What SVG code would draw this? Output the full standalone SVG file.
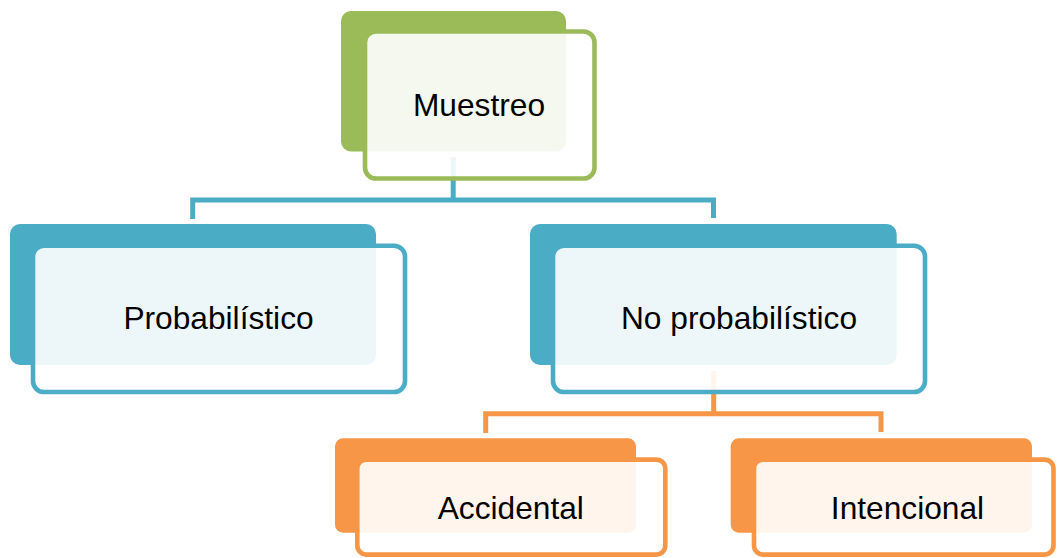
<svg xmlns="http://www.w3.org/2000/svg" width="1057" height="558" viewBox="0 0 1057 558">
  <style>
    .conn { fill: none; stroke-width: 5; stroke-linejoin: miter; stroke-linecap: butt; }
    .blue-line { stroke: #4BACC6; }
    .orange-line { stroke: #F79646; }
    .back { stroke: none; }
    .front { fill: #FFFFFF; fill-opacity: 0.9; stroke-width: 4.6; }
    .green .back { fill: #9BBB59; }
    .green .front { stroke: #9BBB59; }
    .blue .back { fill: #4BACC6; }
    .blue .front { stroke: #4BACC6; }
    .orange .back { fill: #F79646; }
    .orange .front { stroke: #F79646; }
    .label { font-family: "Liberation Sans", Arial, sans-serif; font-size: 31.7px; fill: #000000; text-anchor: middle; }
  </style>

  <!-- connectors, drawn first so the translucent cards sit on top -->
  <g id="connectors">
    <path class="conn blue-line" d="M453.2 157 V200 M192.7 219 V200 H713.5 V218"/>
    <path class="conn orange-line" d="M713.7 371 V413.8 M485.7 433 V413.8 H881 V432"/>
  </g>

  <g id="node-muestreo" class="green">
    <rect class="back" x="341" y="11" width="225" height="140.5" rx="10"/>
    <rect class="front" x="365" y="31.5" width="229.5" height="147" rx="11"/>
    <text class="label" x="479" y="115.5">Muestreo</text>
  </g>

  <g id="node-probabilistico" class="blue">
    <rect class="back" x="10" y="224" width="366" height="141" rx="10"/>
    <rect class="front" x="33" y="245.7" width="372" height="146.3" rx="11"/>
    <text class="label" x="218.5" y="329">Probabilístico</text>
  </g>

  <g id="node-no-probabilistico" class="blue">
    <rect class="back" x="530" y="224" width="366.7" height="141" rx="10"/>
    <rect class="front" x="553" y="245.7" width="372" height="146.3" rx="11"/>
    <text class="label" x="739" y="328.5">No probabilístico</text>
  </g>

  <g id="node-accidental" class="orange">
    <rect class="back" x="335" y="438.3" width="301" height="94.4" rx="8"/>
    <rect class="front" x="357.3" y="459.6" width="308" height="95" rx="9"/>
    <text class="label" x="510.8" y="519">Accidental</text>
  </g>

  <g id="node-intencional" class="orange">
    <rect class="back" x="730.7" y="438.3" width="301.3" height="94.4" rx="8"/>
    <rect class="front" x="754" y="459.6" width="299.5" height="95" rx="9"/>
    <text class="label" x="907.5" y="519">Intencional</text>
  </g>
</svg>
